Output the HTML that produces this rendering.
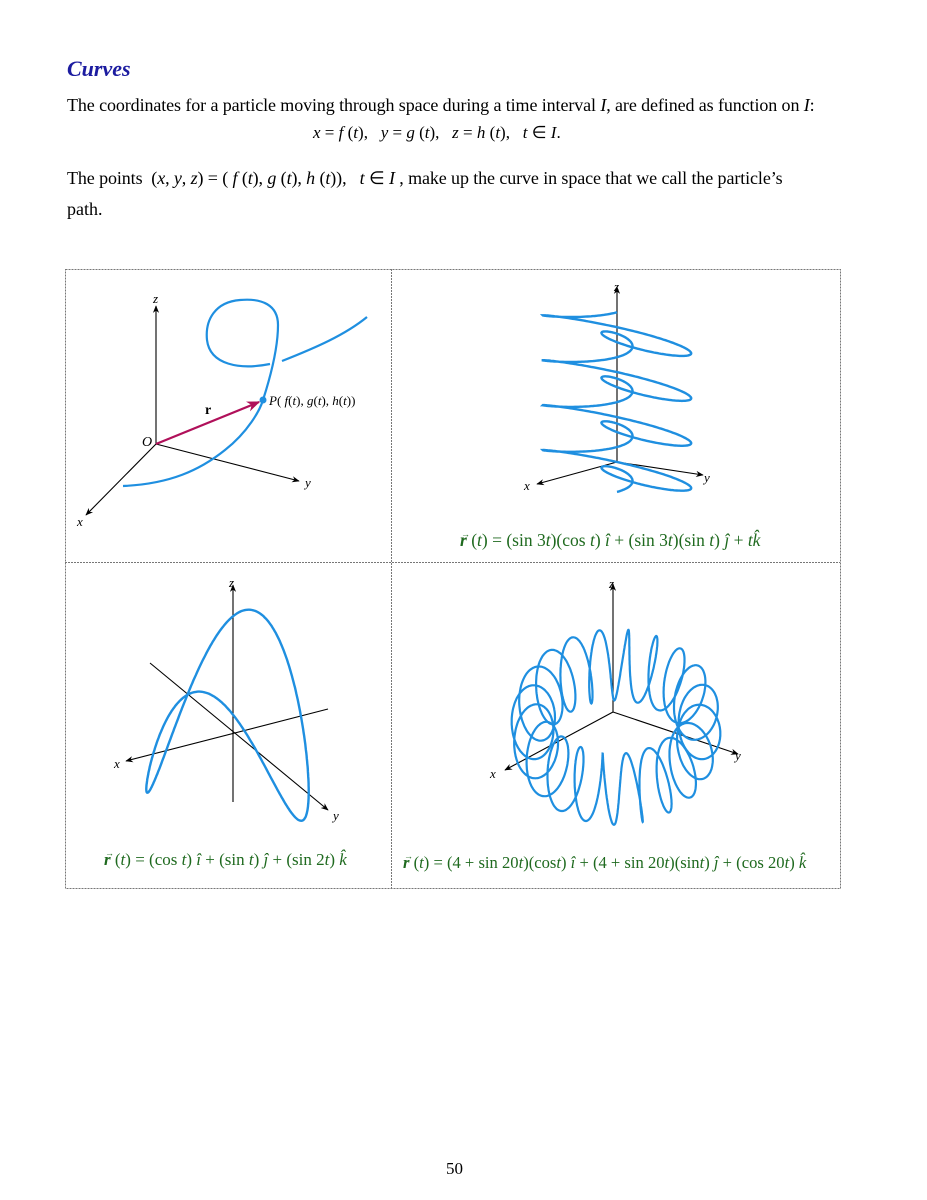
<!DOCTYPE html>
<html><head><meta charset="utf-8">
<style>
html,body{margin:0;padding:0;background:#fff}
body{width:927px;height:1200px;position:relative;overflow:hidden;font-family:"Liberation Serif",serif;color:#000}
.t{position:absolute;white-space:nowrap;font-size:17px}
svg{position:absolute;left:0;top:0}
.eq{font-family:"Liberation Serif",serif;fill:#1f6a1f}
</style></head><body>
<div class="t" style="left:67px;top:56px;font-size:22px;font-weight:bold;font-style:italic;color:#1c1ca0">Curves</div>
<div class="t" style="left:67px;top:95px;font-size:18px;letter-spacing:-0.1px">The coordinates for a particle moving through space during a time interval <i>I</i>, are defined as function on <i>I</i>:</div>
<div class="t" style="left:313px;top:123px"><i>x</i> = <i>f</i> (<i>t</i>),&nbsp;&nbsp; <i>y</i> = <i>g</i> (<i>t</i>),&nbsp;&nbsp; <i>z</i> = <i>h</i> (<i>t</i>),&nbsp;&nbsp; <i>t</i> ∈ <i>I</i>.</div>
<div class="t" style="left:67px;top:168px;font-size:18px;letter-spacing:-0.1px">The points&nbsp; (<i>x</i>, <i>y</i>, <i>z</i>) = ( <i>f</i> (<i>t</i>), <i>g</i> (<i>t</i>), <i>h</i> (<i>t</i>)),&nbsp;&nbsp; <i>t</i> ∈ <i>I</i> , make up the curve in space that we call the particle’s</div>
<div class="t" style="left:67px;top:199px;font-size:18px">path.</div>
<div class="t" style="left:446px;top:1159px;font-size:17px">50</div>

<svg id="fig" width="927" height="1200">
<defs>
<marker id="ah" viewBox="0 0 10 10" refX="9" refY="5" markerWidth="7" markerHeight="7" orient="auto"><path d="M0,1 L10,5 L0,9 L3,5 z" fill="#000"/></marker>
<marker id="ahr" viewBox="0 0 10 10" refX="9" refY="5" markerWidth="6" markerHeight="6" orient="auto"><path d="M0,1 L10,5 L0,9 L3,5 z" fill="#b0105a"/></marker>
</defs>
<g fill="none" stroke="#777" stroke-width="1" stroke-dasharray="2,1">
<rect x="65.5" y="269.5" width="775" height="619"/>
<line x1="391.5" y1="269" x2="391.5" y2="888"/>
<line x1="65" y1="562.5" x2="840" y2="562.5"/>
</g>
<!-- panel 1 -->
<g>
<g stroke="#000" stroke-width="1.1" fill="none">
<line x1="156" y1="444" x2="156" y2="306" marker-end="url(#ah)"/>
<line x1="156" y1="444" x2="299" y2="481" marker-end="url(#ah)"/>
<line x1="156" y1="444" x2="86" y2="515" marker-end="url(#ah)"/>
</g>
<path d="M123,486 C170,484 200,470 225,450 C248,432 260,410 263,400 C272,372 278,345 278,325 C278,305 262,298 240,300 C215,302 205,320 207,340 C210,365 240,370 270,364" fill="none" stroke="#1f8fe0" stroke-width="2.2"/>
<path d="M282,361 C315,348 345,335 367,317" fill="none" stroke="#1f8fe0" stroke-width="2.2"/>
<line x1="156" y1="444" x2="259" y2="402" stroke="#b0105a" stroke-width="2.2" marker-end="url(#ahr)"/>
<circle cx="263" cy="400" r="3.5" fill="#1f8fe0"/>
<g font-family="Liberation Serif,serif" font-size="13">
<text x="153" y="303" font-style="italic">z</text>
<text x="305" y="487" font-style="italic">y</text>
<text x="77" y="526" font-style="italic">x</text>
<text x="142" y="446" font-style="italic" font-size="14">O</text>
<text x="205" y="414" font-weight="bold" font-size="14">r</text>
<text x="269" y="405"><tspan font-style="italic">P</tspan>( <tspan font-style="italic">f</tspan>(<tspan font-style="italic">t</tspan>), <tspan font-style="italic">g</tspan>(<tspan font-style="italic">t</tspan>), <tspan font-style="italic">h</tspan>(<tspan font-style="italic">t</tspan>))</text>
</g>
</g>
<!-- panel 2 -->
<g>
<g stroke="#000" stroke-width="1.1" fill="none">
<line x1="617" y1="462" x2="617" y2="287" marker-end="url(#ah)"/>
<line x1="617" y1="462" x2="537" y2="484" marker-end="url(#ah)"/>
<line x1="617" y1="462" x2="703" y2="475" marker-end="url(#ah)"/>
</g>
<path id="c2" fill="none" stroke="#1f8fe0" stroke-width="2.4"/>
<g font-family="Liberation Serif,serif" font-size="13" font-style="italic">
<text x="614" y="291">z</text><text x="524" y="490">x</text><text x="704" y="482">y</text>
</g>
<text class="eq" x="461" y="537" font-size="9">→</text>
<text class="eq" x="460" y="546" font-size="17.5"><tspan font-weight="bold" font-style="italic">r</tspan> (<tspan font-style="italic">t</tspan>) = (sin 3<tspan font-style="italic">t</tspan>)(cos <tspan font-style="italic">t</tspan>) <tspan font-style="italic">î</tspan> + (sin 3<tspan font-style="italic">t</tspan>)(sin <tspan font-style="italic">t</tspan>) <tspan font-style="italic">ĵ</tspan> + <tspan font-style="italic">tk̂</tspan></text>
</g>
<!-- panel 3 -->
<g>
<g stroke="#000" stroke-width="1.1" fill="none">
<line x1="233" y1="802" x2="233" y2="585" marker-end="url(#ah)"/>
<line x1="328" y1="709" x2="126" y2="761" marker-end="url(#ah)"/>
<line x1="150" y1="663" x2="328" y2="810" marker-end="url(#ah)"/>
</g>
<path id="c3" fill="none" stroke="#1f8fe0" stroke-width="2.4"/>
<g font-family="Liberation Serif,serif" font-size="13" font-style="italic">
<text x="229" y="587">z</text><text x="114" y="768">x</text><text x="333" y="820">y</text>
</g>
<text class="eq" x="105" y="856" font-size="9">→</text>
<text class="eq" x="104" y="865" font-size="17"><tspan font-weight="bold" font-style="italic">r</tspan> (<tspan font-style="italic">t</tspan>) = (cos <tspan font-style="italic">t</tspan>) <tspan font-style="italic">î</tspan> + (sin <tspan font-style="italic">t</tspan>) <tspan font-style="italic">ĵ</tspan> + (sin 2<tspan font-style="italic">t</tspan>) <tspan font-style="italic">k̂</tspan></text>
</g>
<!-- panel 4 -->
<g>
<g stroke="#000" stroke-width="1.1" fill="none">
<line x1="613" y1="712" x2="613" y2="584" marker-end="url(#ah)"/>
<line x1="613" y1="712" x2="505" y2="770" marker-end="url(#ah)"/>
<line x1="613" y1="712" x2="738" y2="754" marker-end="url(#ah)"/>
</g>
<path id="c4" fill="none" stroke="#1f8fe0" stroke-width="2.2"/>
<g font-family="Liberation Serif,serif" font-size="13" font-style="italic">
<text x="609" y="588">z</text><text x="490" y="778">x</text><text x="735" y="760">y</text>
</g>
<text class="eq" x="404" y="859" font-size="9">→</text>
<text class="eq" x="403" y="868" font-size="16.6"><tspan font-weight="bold" font-style="italic">r</tspan> (<tspan font-style="italic">t</tspan>) = (4 + sin 20<tspan font-style="italic">t</tspan>)(cos<tspan font-style="italic">t</tspan>) <tspan font-style="italic">î</tspan> + (4 + sin 20<tspan font-style="italic">t</tspan>)(sin<tspan font-style="italic">t</tspan>) <tspan font-style="italic">ĵ</tspan> + (cos 20<tspan font-style="italic">t</tspan>) <tspan font-style="italic">k̂</tspan></text>
</g>
</svg>
<script>
// curve parameters (parametric ranges and coefficients)
const roseRange = [-2.094, 10.472];
const roseFreq = [3];
const saddleRange = [0, 6.2832];
const saddleFreq = [2];
const torusRange = [0, 6.2832];
const torusRadii = [4, 1];
const torusFreq = [20];

function pathFrom(fn, range, n){
  let d = '';
  for (let i = 0; i <= n; i++) {
    const t = range[0] + (range[1] - range[0]) * i / n;
    const p = fn(t);
    d += (i ? 'L' : 'M') + p[0].toFixed(1) + ',' + p[1].toFixed(1);
  }
  return d;
}
// panel 2 projection
function proj2(x, y, z){ return [617 - 84.3*x, 462 - 14*x + 16*y - 14.3*z]; }
document.getElementById('c2').setAttribute('d', pathFrom(t => {
  const r = Math.sin(roseFreq[0]*t);
  return proj2(r*Math.cos(t), r*Math.sin(t), t);
}, roseRange, 1200));
// panel 3 projection
function proj3(x, y, z){ return [227.5 - 37.5*x + 72*y, 727.5 - 39*x - 19*y - 76.5*z]; }
document.getElementById('c3').setAttribute('d', pathFrom(t =>
  proj3(Math.cos(t), Math.sin(t), Math.sin(saddleFreq[0]*t)), saddleRange, 400));
// panel 4 projection
function proj4(x, y, z){ return [616 - 14.8*x + 14.8*y, 727 + 11*x + 11*y - 32*z]; }
document.getElementById('c4').setAttribute('d', pathFrom(t => {
  const r = torusRadii[0] + torusRadii[1]*Math.sin(torusFreq[0]*t);
  return proj4(r*Math.cos(t), r*Math.sin(t), torusRadii[1]*Math.cos(torusFreq[0]*t));
}, torusRange, 2400));
</script>
</body></html>
